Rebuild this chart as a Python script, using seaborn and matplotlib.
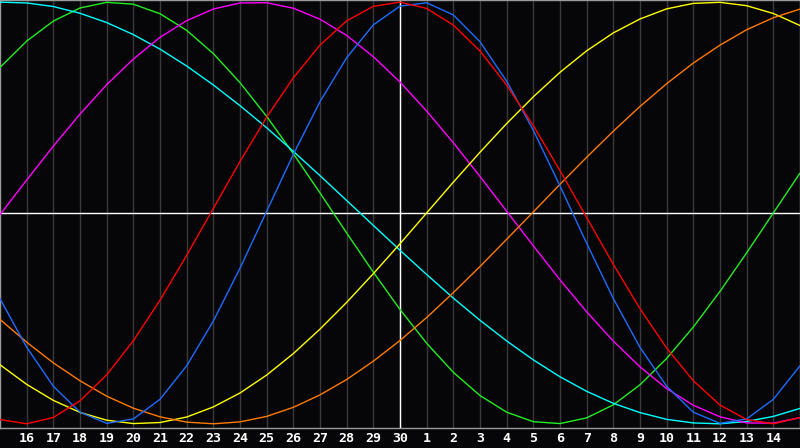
import pandas as pd
import matplotlib
matplotlib.use('Agg')
import matplotlib.pyplot as plt
import seaborn as sns

# day labels along the bottom (16th .. 30th, then 1st .. 14th)
day_labels = [str(d) for d in range(16, 31)] + [str(d) for d in range(1, 15)]

# x positions: one value per day, starting one day before the first label
day_index = list(range(-1, 30))

# cycle values (-1 .. 1), one per day
blue = [-0.407, -0.637, -0.822, -0.945, -0.998, -0.977, -0.884, -0.725, -0.513, -0.262,
        0.008, 0.278, 0.528, 0.736, 0.892, 0.981, 0.997, 0.939, 0.812, 0.625,
        0.392, 0.128, -0.144, -0.406, -0.638, -0.822, -0.945, -0.998, -0.977, -0.884, -0.725]
red = [-0.980, -1.000, -0.970, -0.891, -0.768, -0.606, -0.414, -0.201, 0.022, 0.244,
       0.454, 0.641, 0.796, 0.911, 0.980, 1.000, 0.970, 0.891, 0.768, 0.606,
       0.414, 0.201, -0.022, -0.244, -0.454, -0.641, -0.796, -0.911, -0.980, -1.000, -0.970]
green = [0.690, 0.815, 0.910, 0.972, 0.999, 0.990, 0.945, 0.866, 0.756, 0.618,
         0.458, 0.281, 0.095, -0.095, -0.281, -0.458, -0.618, -0.756, -0.866, -0.945,
         -0.990, -0.999, -0.972, -0.910, -0.815, -0.690, -0.541, -0.372, -0.189, 0.000, 0.189]
magenta = [-0.008, 0.156, 0.317, 0.469, 0.608, 0.730, 0.833, 0.912, 0.967, 0.996,
           0.997, 0.971, 0.919, 0.842, 0.741, 0.621, 0.483, 0.333, 0.173, 0.008,
           -0.156, -0.317, -0.469, -0.608, -0.730, -0.833, -0.912, -0.967, -0.996, -0.997, -0.971]
yellow = [-0.720, -0.813, -0.889, -0.946, -0.983, -0.999, -0.994, -0.968, -0.920, -0.854,
          -0.769, -0.667, -0.551, -0.424, -0.288, -0.146, 0.000, 0.146, 0.288, 0.424,
          0.551, 0.667, 0.769, 0.854, 0.920, 0.968, 0.994, 0.999, 0.983, 0.946, 0.889]
orange = [-0.505, -0.613, -0.711, -0.796, -0.869, -0.926, -0.967, -0.992, -1.000, -0.991,
          -0.965, -0.922, -0.863, -0.790, -0.703, -0.605, -0.496, -0.378, -0.254, -0.125,
          0.005, 0.136, 0.264, 0.388, 0.505, 0.613, 0.711, 0.796, 0.869, 0.926, 0.967]
cyan = [1.000, 0.996, 0.979, 0.947, 0.903, 0.846, 0.777, 0.697, 0.607, 0.509,
        0.404, 0.292, 0.177, 0.059, -0.059, -0.177, -0.292, -0.404, -0.509, -0.607,
        -0.697, -0.777, -0.846, -0.903, -0.947, -0.979, -0.996, -1.000, -0.989, -0.965, -0.927]

series = {'green': green, 'cyan': cyan, 'magenta': magenta, 'yellow': yellow,
          'orange': orange, 'blue': blue, 'red': red}
palette = {'green': '#22ee22', 'cyan': '#00ffff', 'magenta': '#ff00ff',
           'yellow': '#ffff00', 'orange': '#ff7a00', 'blue': '#1e6cff', 'red': '#ff0000'}

frames = []
for name, vals in series.items():
    frames.append(pd.DataFrame({'day': day_index, 'value': vals, 'cycle': name}))
df = pd.concat(frames, ignore_index=True)

sns.set_style('dark', {'axes.facecolor': '#060608', 'figure.facecolor': '#060608'})
plt.rcParams['font.family'] = ['DejaVu Sans Mono', 'DejaVu Sans']

fig = plt.figure(figsize=(8, 4.48), dpi=100)
ax = fig.add_axes([0, 20 / 448, 1, 428 / 448])

# day grid
for i in range(len(day_labels)):
    ax.axvline(i, color='#3a3a3a', lw=1, zorder=1)
ax.axhline(0, color='white', lw=1, zorder=2)
ax.axvline(14, color='white', lw=1, zorder=2)

sns.lineplot(data=df, x='day', y='value', hue='cycle', palette=palette,
             sort=False, legend=False, lw=1.0, ax=ax, zorder=3)

ax.set_xlim(-1, 29)
ax.set_ylim(-1.02, 1.01)
ax.set_xticks(range(len(day_labels)))
ax.set_xticklabels(day_labels, color='white', fontweight='bold', fontsize=9.5)
ax.tick_params(axis='x', length=0, pad=3)
ax.set_yticks([])
ax.set_xlabel('')
ax.set_ylabel('')
ax.grid(False)
for s in ax.spines.values():
    s.set_visible(True)
    s.set_color('#9a9a9a')
    s.set_linewidth(1)

fig.savefig('out.png', dpi=100, facecolor='#060608')
